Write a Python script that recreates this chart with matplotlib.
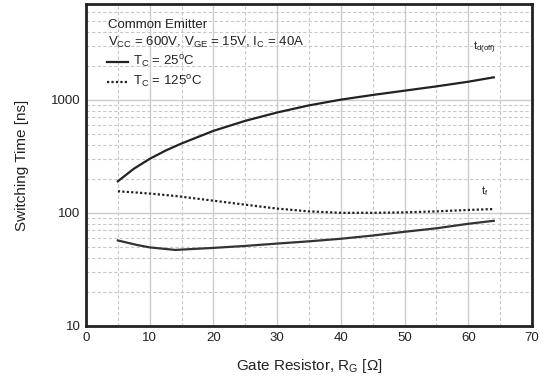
import matplotlib.pyplot as plt
from matplotlib.ticker import FixedLocator, NullFormatter, LogLocator

plt.rcParams['font.family'] = ['Liberation Sans', 'DejaVu Sans']

# gate resistor [ohm]
rg_tdoff = [5, 7.5, 10, 12.5, 15, 20, 25, 30, 35, 40, 45, 50, 55, 60, 64]
tdoff_25 = [190, 245, 300, 355, 410, 530, 650, 770, 890, 1000, 1100, 1200, 1310, 1440, 1575]

rg_tf = [5, 8, 10, 14, 20, 25, 30, 35, 40, 45, 50, 55, 60, 64]
tf_25 = [57, 52, 49.5, 47, 49, 51, 53.5, 56, 59, 63, 68, 73, 80, 85]
tf_125 = [155, 151, 148, 141, 128, 118, 109, 103, 100, 100, 101, 103, 106, 108]

fig = plt.figure(figsize=(5.48, 3.81), dpi=100)
ax = fig.add_axes([86/548, 1 - 326/381, 446/548, 322/381])

ax.plot(rg_tdoff, tdoff_25, color='#222222', lw=1.6)
ax.plot(rg_tf, tf_25, color='#333333', lw=1.6)
ax.plot(rg_tf, tf_125, color='#222222', lw=1.6, linestyle=(0, (1, 1)))

ax.set_yscale('log')
ax.set_xlim(0, 70)
ax.set_ylim(10, 7000)
ax.set_xticks(range(0, 71, 10))
ax.xaxis.set_minor_locator(FixedLocator(range(5, 70, 10)))
ax.yaxis.set_major_locator(FixedLocator([10, 100, 1000]))
ax.yaxis.set_minor_locator(LogLocator(base=10, subs=range(2, 10)))
ax.yaxis.set_minor_formatter(NullFormatter())
ax.set_yticklabels(['10', '100', '1000'])

ax.grid(which='major', color='#cccccc', lw=1.0, ls='-')
ax.grid(which='minor', color='#c8c8c8', lw=0.8, ls=(0, (3, 2)))
ax.set_axisbelow(True)

ax.tick_params(which='both', length=0, labelsize=9.5, colors='#222222', pad=4)
for s in ax.spines.values():
    s.set_linewidth(2)
    s.set_color('#222222')

ax.set_xlabel('Gate Resistor, R$_\\mathregular{G}$ [Ω]', fontsize=11, color='#222222', labelpad=10)
ax.set_ylabel('Switching Time [ns]', fontsize=11, color='#222222', labelpad=16)

# legend block
ax.text(3.4, 4600, 'Common Emitter', fontsize=9.5, va='center', color='#222222')
ax.text(3.4, 3200, 'V$_\\mathregular{CC}$ = 600V, V$_\\mathregular{GE}$ = 15V, I$_\\mathregular{C}$ = 40A',
        fontsize=9.5, va='center', color='#222222')
ax.plot([3.3, 6.6], [2150, 2150], color='#222222', lw=1.6)
ax.text(7.4, 2150, 'T$_\\mathregular{C}$ = 25$^\\mathregular{o}$C', fontsize=9.5, va='center', color='#222222')
ax.plot([3.3, 6.6], [1430, 1430], color='#222222', lw=1.6, linestyle=(0, (1, 1)))
ax.text(7.4, 1430, 'T$_\\mathregular{C}$ = 125$^\\mathregular{o}$C', fontsize=9.5, va='center', color='#222222')

ax.text(60.8, 2850, 't$_\\mathregular{d(off)}$', fontsize=8, va='center', color='#222222')
ax.text(62.0, 157, 't$_\\mathregular{f}$', fontsize=8, va='center', color='#222222')

fig.savefig('out.png', dpi=100)
